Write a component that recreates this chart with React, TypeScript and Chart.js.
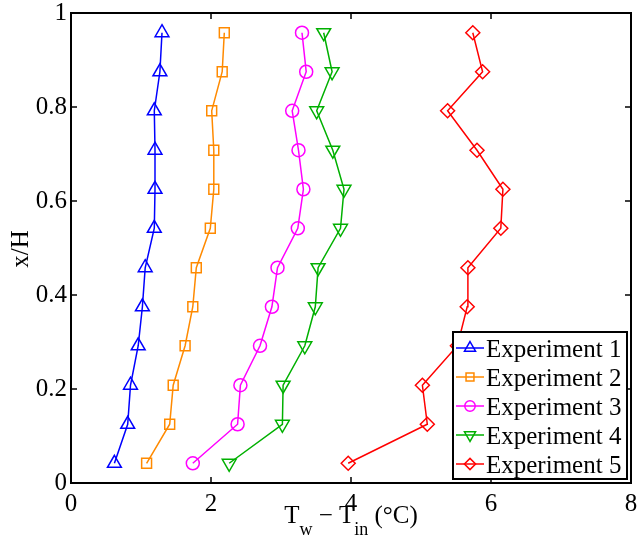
import React, { useEffect, useRef } from 'react';
import { Chart, registerables } from 'chart.js';
import { drawPoint } from 'chart.js/helpers';

Chart.register(...registerables);

// Non-dimensional height x/H (y values)
const heights = [0.042, 0.125, 0.208, 0.292, 0.375, 0.458, 0.542, 0.625, 0.708, 0.792, 0.875, 0.958];
// Temperature differences T_w - T_in (°C)
const exp1 = [0.62, 0.81, 0.85, 0.96, 1.02, 1.06, 1.19, 1.2, 1.2, 1.19, 1.27, 1.3];
const exp2 = [1.08, 1.41, 1.46, 1.63, 1.74, 1.79, 1.99, 2.04, 2.04, 2.01, 2.16, 2.19];
const exp3 = [1.74, 2.38, 2.42, 2.7, 2.87, 2.95, 3.24, 3.32, 3.25, 3.16, 3.36, 3.3];
const exp4 = [2.26, 3.02, 3.03, 3.34, 3.49, 3.53, 3.85, 3.9, 3.74, 3.51, 3.73, 3.61];
const exp5 = [3.96, 5.09, 5.02, 5.52, 5.66, 5.67, 6.14, 6.17, 5.8, 5.38, 5.88, 5.74];

const seriesLabels = ['Experiment 1', 'Experiment 2', 'Experiment 3', 'Experiment 4', 'Experiment 5'];
const seriesValues = [exp1, exp2, exp3, exp4, exp5];
const seriesColors = ['#0000ff', '#ff8a00', '#ff00ff', '#00b000', '#ff0000'];
const seriesStyles = ['triangle', 'rect', 'circle', 'triangle', 'rectRot'];
const seriesRotation = [0, 0, 0, 180, 0];
const seriesRadius = [8, 7, 6.5, 8, 7];

const xMin = 0, xMax = 8, xStep = 2;
const yMin = 0, yMax = 1, yStep = 0.2;

const SERIF = "'Liberation Serif', 'Times New Roman', serif";

const framePlugin = {
  id: 'frameAndLegend',
  afterDraw(chart: any) {
    const { ctx, chartArea: a, scales } = chart;
    ctx.save();
    ctx.strokeStyle = '#000';
    ctx.lineWidth = 1.5;
    const tick = 6;
    const seg = (x1: number, y1: number, x2: number, y2: number) => {
      ctx.beginPath();
      ctx.moveTo(x1, y1);
      ctx.lineTo(x2, y2);
      ctx.stroke();
    };
    scales.x.ticks.forEach((t: any) => {
      const px = scales.x.getPixelForValue(t.value);
      seg(px, a.bottom, px, a.bottom - tick);
      seg(px, a.top, px, a.top + tick);
    });
    scales.y.ticks.forEach((t: any) => {
      const py = scales.y.getPixelForValue(t.value);
      seg(a.left, py, a.left + tick, py);
      seg(a.right, py, a.right - tick, py);
    });
    ctx.lineWidth = 2;
    ctx.strokeRect(a.left, a.top, a.right - a.left, a.bottom - a.top);

    // Y title
    ctx.fillStyle = '#000';
    ctx.font = `25px ${SERIF}`;
    ctx.save();
    ctx.translate(28, (a.top + a.bottom) / 2 + 1);
    ctx.rotate(-Math.PI / 2);
    ctx.textAlign = 'center';
    ctx.textBaseline = 'alphabetic';
    ctx.fillText('x/H', 0, 0);
    ctx.restore();

    // X title with subscripts
    const parts: [string, boolean][] = [
      ['T', false], ['w', true], [' \u2212 ', false], ['T', false], ['in', true], [' (\u00B0C)', false],
    ];
    const mainFont = `25px ${SERIF}`;
    const subFont = `18px ${SERIF}`;
    let total = 0;
    const widths = parts.map(([s, sub]) => {
      ctx.font = sub ? subFont : mainFont;
      const w = ctx.measureText(s).width;
      total += w;
      return w;
    });
    let cx = (a.left + a.right) / 2 - total / 2;
    const base = 523;
    ctx.textAlign = 'left';
    ctx.textBaseline = 'alphabetic';
    parts.forEach(([s, sub], i) => {
      ctx.font = sub ? subFont : mainFont;
      ctx.fillText(s, cx, sub ? base + 12 : base);
      cx += widths[i];
    });

    // Legend
    const boxR = a.right - 4;
    const boxB = a.bottom - 4;
    const boxW = 174;
    const boxH = 147;
    const boxL = boxR - boxW;
    const boxT = boxB - boxH;
    ctx.fillStyle = '#fff';
    ctx.fillRect(boxL, boxT, boxW, boxH);
    ctx.lineWidth = 2;
    ctx.strokeStyle = '#000';
    ctx.strokeRect(boxL, boxT, boxW, boxH);
    const rowStep = 29;
    chart.data.datasets.forEach((ds: any, i: number) => {
      const cy = boxT + 16 + i * rowStep;
      ctx.strokeStyle = ds.borderColor;
      ctx.lineWidth = 1.5;
      seg(boxL + 3, cy, boxL + 31, cy);
      ctx.fillStyle = 'rgba(0,0,0,0)';
      drawPoint(ctx, {
        pointStyle: ds.pointStyle,
        rotation: ds.pointRotation,
        radius: ds.pointRadius * 0.8,
        borderWidth: 1.5,
      } as any, boxL + 17, cy);
      ctx.fillStyle = '#000';
      ctx.font = `25px ${SERIF}`;
      ctx.textAlign = 'left';
      ctx.textBaseline = 'alphabetic';
      ctx.fillText(ds.label, boxL + 33, cy + 8.5);
    });
    ctx.restore();
  },
};

const noPad = (s: any) => {
  s.paddingTop = 0;
  s.paddingBottom = 0;
  s.paddingLeft = 0;
  s.paddingRight = 0;
};

export default function App() {
  const ref = useRef<HTMLCanvasElement | null>(null);
  useEffect(() => {
    if (!ref.current) return;
    const datasets = seriesLabels.map((label, i) => ({
      label,
      data: heights.map((h, k) => ({ x: seriesValues[i][k], y: h })),
      showLine: true,
      borderColor: seriesColors[i],
      backgroundColor: 'rgba(0,0,0,0)',
      borderWidth: 1.5,
      pointStyle: seriesStyles[i],
      pointRotation: seriesRotation[i],
      pointRadius: seriesRadius[i],
      pointBorderWidth: 1.5,
      pointBorderColor: seriesColors[i],
      pointBackgroundColor: 'rgba(0,0,0,0)',
      tension: 0,
    }));
    const chart = new Chart(ref.current, {
      type: 'scatter',
      data: { datasets },
      options: {
        responsive: false,
        animation: false,
        devicePixelRatio: 1,
        layout: { autoPadding: false, padding: { top: 13, right: 6, left: 0, bottom: 0 } },
        plugins: { legend: { display: false }, tooltip: { enabled: false } },
        scales: {
          x: {
            type: 'linear',
            min: xMin,
            max: xMax,
            grid: { display: false, drawTicks: false },
            border: { display: false },
            ticks: {
              stepSize: xStep,
              padding: 6,
              color: '#000',
              maxRotation: 0,
              font: { family: SERIF, size: 25 },
              callback: (v: any) => String(+Number(v).toFixed(2)),
            },
            afterFit: (s: any) => { s.height = 60; noPad(s); },
          },
          y: {
            type: 'linear',
            min: yMin,
            max: yMax,
            grid: { display: false, drawTicks: false },
            border: { display: false },
            ticks: {
              stepSize: yStep,
              padding: 4,
              color: '#000',
              font: { family: SERIF, size: 25 },
              callback: (v: any) => String(+Number(v).toFixed(2)),
            },
            afterFit: (s: any) => { s.width = 71; noPad(s); },
          },
        },
      },
      plugins: [framePlugin],
    });
    return () => chart.destroy();
  }, []);
  return (
    <div style={{ position: 'fixed', left: 0, top: 0, width: 637, height: 543, background: '#fff' }}>
      <canvas ref={ref} width={637} height={543} style={{ display: 'block' }} />
    </div>
  );
}
